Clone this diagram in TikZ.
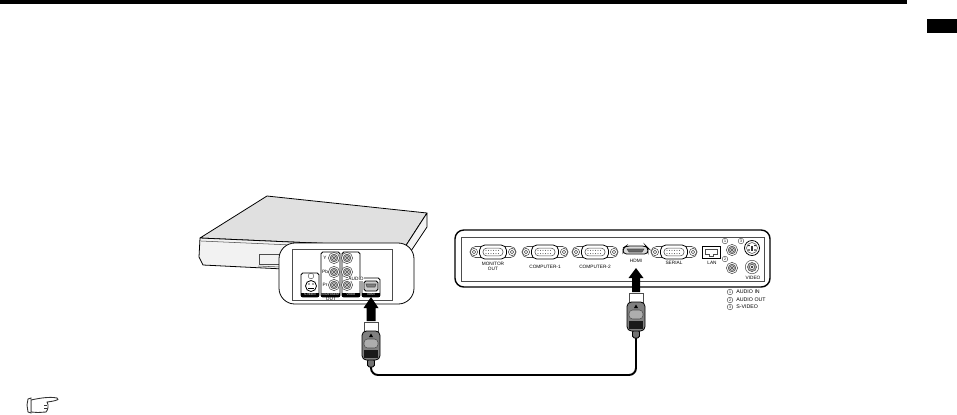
\documentclass[tikz,border=0pt]{standalone}
\usepackage{fontspec}
\setmainfont{Liberation Sans}
\newcommand{\tinylabel}{\fontsize{2.7}{3}\selectfont}
\newcommand{\legendlabel}{\fontsize{3}{3.6}\selectfont}
\tikzset{
  outline/.style={draw=black, line width=0.45pt},
  thinline/.style={draw=black!70, line width=0.3pt},
  portlabel/.style={inner sep=0pt, align=center, text=black, font=\tinylabel},
  striplabel/.style={fill=black, text=white, inner sep=0pt, minimum height=2.4pt, font=\fontsize{1.6}{2}\selectfont},
  circlenum/.style={circle, draw=black!70, line width=0.25pt, inner sep=0pt, minimum size=3.2pt, font=\fontsize{2}{2}\selectfont},
  bigarrow/.style={fill=black, draw=none},
  % sockets
  rcaport/.pic={
    \draw[thinline, fill=white] (0,0) circle (5.6);
    \draw[thinline, fill=black!30] (0,0) circle (3.8);
    \draw[thinline, fill=white] (0,0) circle (2.2);
    \fill[black!80] (0,0) circle (1.1);
  },
  vgaport/.pic={
    \draw[thinline, fill=white, rounded corners=3pt] (-23,-5.5) rectangle (23,5.5);
    \foreach \x in {-19,19} {
      \draw[thinline, fill=white] (\x,0) circle (3.6);
      \draw[thinline] (\x,0) circle (1.8);
    }
    \draw[outline, fill=white, rounded corners=3pt] (-13.5,-7) rectangle (13.5,7);
    \draw[thinline, rounded corners=2pt] (-10,-3.8) rectangle (10,3.8);
    \foreach \x in {-7,-4.5,...,7.5} {
      \fill[black!70] (\x,-1.6) circle (0.55);
      \fill[black!70] (\x,1.6) circle (0.55);
    }
  },
  hdmiplug/.pic={
    % tip
    \draw[thinline, fill=white] (-7,0) rectangle (7,9);
    % strain relief
    \draw[outline, fill=black!55, rounded corners=1pt] (-3.5,37) rectangle (3.5,45);
    % body
    \draw[outline, fill=black!50, rounded corners=2.5pt] (-9,9) rectangle (9,38);
    \fill[black] (-2,15) -- (2,15) -- (0,11.5) -- cycle;
    \draw[thinline, fill=black!32, rounded corners=2pt] (-7,17) rectangle (7,26);
    \fill[black!90] (-7,28) rectangle (7,35.5);
  },
}

\begin{document}
\begin{tikzpicture}[x=0.02cm, y=-0.02cm]
  \useasboundingbox (0,0) rectangle (957,414);

  % page furniture
  \fill[black] (0,0) rectangle (907,4);
  \fill[black] (927,19) rectangle (957,33);

  % player
  \draw[outline, fill=black!12, line join=round] (200,238) -- (267,196) -- (427,213) -- (405,247) -- cycle;
  \draw[outline, fill=black!5, line join=round] (200,238) -- (199,257) -- (203,265) -- (405,275) -- (407,257) -- (427,227) -- (427,213) -- (405,247) -- cycle;
  \draw[thinline] (201,241) -- (405,250);
  \draw[thinline] (259,254) rectangle (282,264);
  \draw[thinline] (258,266) -- (280,267);

  % inset with the player's sockets
  \draw[outline, fill=white, rounded corners=9pt] (279,243) rectangle (414,304);
  \draw[thinline] (292,249) rectangle (392,300);
  \foreach \xa/\ya/\xb in {301/273/319, 321/252/340, 342/252/360, 362/278/380}
    \draw[outline, rounded corners=1pt] (\xa,\ya) rectangle (\xb,297);
  \foreach \xa/\xb in {301/319, 321/340, 342/360, 362/380}
    \fill[black] (\xa,293) rectangle (\xb,297);
  \node[striplabel] (labsvideo) at (310,295) {S-VIDEO};
  \node[striplabel] (labcomp) at (330.5,295) {COMPONENT};
  \node[striplabel] (labvid) at (351,295) {VIDEO};
  \node[striplabel] (labhdmi) at (371,295) {HDMI};
  \node[portlabel] (labout) at (331,299) {OUT};
  \foreach \y in {258,272,285} {
    \pic at (334,\y) {rcaport};
    \pic at (347,\y) {rcaport};
  }
  \node[portlabel] (laby) at (325,258) {Y};
  \node[portlabel] (labpb) at (325,272) {Pb};
  \node[portlabel] (labpr) at (325,285) {Pr};
  \node[portlabel, fill=white] (labaudio) at (356,279) {AUDIO};
  \node[circlenum] (numsvideo) at (311,276) {};
  % s-video socket
  \draw[outline, fill=white] (311,286) circle (5.5);
  \fill[black!70] (309,284) circle (0.9) (313,284) circle (0.9);
  \draw[black, line width=0.4pt] (308,288) -- (314,288);
  % hdmi socket, player
  \draw[outline, fill=black!20, rounded corners=1pt] (364,281) rectangle (378,291);
  \draw[thinline, fill=black!50] (366,284) -- (376,284) -- (375,287) -- (367,287) -- cycle;

  % projector panel
  \draw[outline, line width=0.8pt, rounded corners=5pt] (455,230) rectangle (770,287);
  \draw[thinline] (461,237) rectangle (764,281);
  \foreach \x in {493,545,595,674}
    \pic at (\x,252) {vgaport};
  \node[portlabel] (monitor) at (493,266.5) {MONITOR\\[-0.3pt]OUT};
  \node[portlabel] (compone) at (545,266.5) {COMPUTER-1};
  \node[portlabel] (comptwo) at (595,266.5) {COMPUTER-2};
  \node[portlabel] (hdmilab) at (636,261) {HDMI};
  \node[portlabel] (serial) at (674,263) {SERIAL};
  \node[portlabel] (lan) at (712,263) {LAN};
  \node[portlabel] (video) at (753,278) {VIDEO};
  % hdmi socket, projector
  \draw[outline, fill=black!15, rounded corners=2pt] (623,254) -- (623,248) -- (626,246) -- (646,246) -- (648,248) -- (648,254) -- cycle;
  \draw[thinline, fill=black!60] (627,249) -- (644,249) -- (642,252) -- (629,252) -- cycle;
  % lan socket
  \draw[outline, fill=white] (702,246) rectangle (720,258);
  \draw[thinline] (705,249) -- (717,249) -- (717,254) -- (713,254) -- (713,256) -- (709,256) -- (709,254) -- (705,254) -- cycle;
  % round sockets
  \pic at (732,250) {rcaport};
  \pic at (732,268) {rcaport};
  \pic[scale=1.2] at (752,267) {rcaport};
  \draw[outline, fill=white] (752,248) circle (7.5);
  \draw[thinline, fill=white] (752,248) circle (5.5);
  \foreach \x/\y in {749/245.5, 755/245.5, 749/250, 755/250}
    \fill[black] (\x,\y) circle (0.9);
  \fill[black!80] (751.2,246) rectangle (752.8,251);
  \node[circlenum] (numa) at (725,241) {1};
  \node[circlenum] (numb) at (725,259) {2};
  \node[circlenum] (numc) at (741,241) {3};

  % legend
  \foreach \y/\n/\t in {292/1/AUDIO IN, 300/2/AUDIO OUT, 307/3/S-VIDEO} {
    \node[circlenum] (leg\n) at (730,\y) {\n};
    \node[anchor=west, inner sep=0pt, font=\legendlabel] (legtext\n) at (736,\y) {\t};
  }

  % arrows into the sockets
  \fill[bigarrow] (371,297) -- (378.5,308) -- (375.5,308) -- (375.5,321) -- (366.5,321) -- (366.5,308) -- (363.5,308) -- cycle;
  \fill[bigarrow] (636,268) -- (643.5,278) -- (640,278) -- (640,292) -- (632,292) -- (632,278) -- (628.5,278) -- cycle;

  % cable
  \coordinate (cableleft) at (371,367);
  \coordinate (cableright) at (636,338);
  \draw[black, line width=1.1pt, rounded corners=4pt] (cableleft) |- (cableright |- 0,375) -- (cableright);

  % plugs
  \pic at (371,322) {hdmiplug};
  \pic at (636,293) {hdmiplug};

  % pointer hand
  \draw[black!80, line width=0.5pt, line join=round, fill=white] (31,400) .. controls (40,398) and (50,396.5) .. (57,398) -- (58,399.5) .. controls (55,401) and (51,401.5) .. (47,402) .. controls (49,405) and (48,410) .. (46,412) -- (38,412.5) -- (31,412) -- cycle;
  \draw[black!80, line width=0.3pt] (47,405) -- (44,405) (47,408) -- (44,408);
  \draw[black!80, line width=0.5pt, fill=white] (31,398) -- (28,399) -- (27,405) -- (28,412) -- (31,413) -- cycle;
\end{tikzpicture}
\end{document}
